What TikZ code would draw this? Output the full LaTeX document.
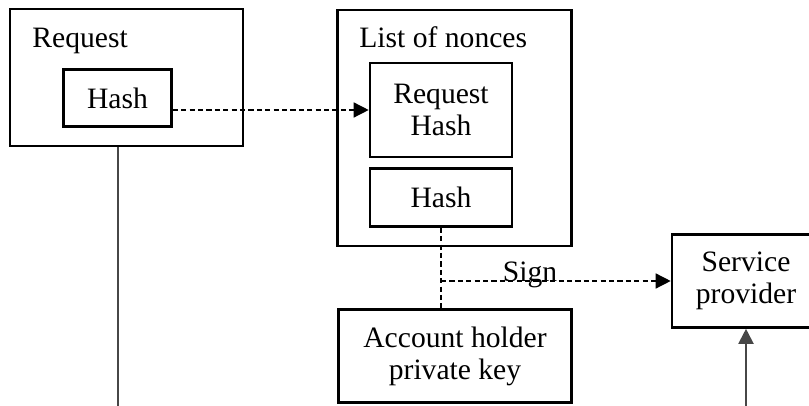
\documentclass[tikz,border=0pt]{standalone}
\usepackage{fontspec}
\setmainfont{Liberation Serif}
\usepackage{tikz}
\usetikzlibrary{arrows.meta,calc}
\tikzset{
  box/.style={draw=black,line width=1.3pt,inner sep=0pt,align=center,
              font=\fontsize{14.8pt}{16pt}\selectfont},
  caption/.style={inner sep=0pt,anchor=base west,
              font=\fontsize{14.8pt}{16pt}\selectfont},
  solidarr/.style={draw=black!72,line width=1pt},
  dasharr/.style={draw=black,line width=0.7pt,dash pattern=on 2.6pt off 1.6pt},
  tip/.style={-{Triangle[length=7.5pt,width=7.5pt]}},
}

\begin{document}
\begin{tikzpicture}[x=0.5pt,y=-0.5pt]
        \useasboundingbox (0,0) rectangle (809,406);
        % containers
        \node[box,minimum width=116.5pt,minimum height=68.5pt] (reqbox) at (126.5,77.5) {};
        \node[caption] (reqlbl) at (32,48) {Request};
        \node[box,minimum width=117pt,minimum height=118pt] (nonces) at (454.5,128) {};
        \node[caption] (nonlbl) at (359,48) {List of nonces};
        % inner boxes
        \node[box,minimum width=54pt,minimum height=28.5pt] (hash1) at (117.5,98) {Hash};
        \node[box,minimum width=71pt,minimum height=47pt] (reqhash) at (441,110) {Request\\Hash};
        \node[box,minimum width=71pt,minimum height=29pt] (hash2) at (441,197.5) {Hash};
        \node[box,minimum width=116.5pt,minimum height=46.5pt] (keybox) at (455,356) {Account holder\\private key};
        \node[box,minimum width=74pt,minimum height=46.5pt] (provider) at (746,281) {Service\\provider};
        % free ends at the lower edge
        \coordinate (reqbot) at (117.5,406);
        \coordinate (provbot) at (746,406);
        \coordinate (split) at (hash2.south |- provider.west);
        % connectors
        \draw[dasharr,tip] (hash1.east |- reqhash.west) -- (reqhash.west);
        \draw[dasharr] (hash2.south) -- (hash2.south |- keybox.north);
        \draw[dasharr,tip] (split) -- (provider.west);
        \node[inner sep=0pt,anchor=base,font=\fontsize{14.8pt}{16pt}\selectfont] (signlbl) at (530,282) {Sign};
        \draw[solidarr] (hash1.south |- reqbox.south) -- (reqbot);
        \draw[solidarr,tip] (provbot) -- (provider.south);
      \end{tikzpicture}
\end{document}
